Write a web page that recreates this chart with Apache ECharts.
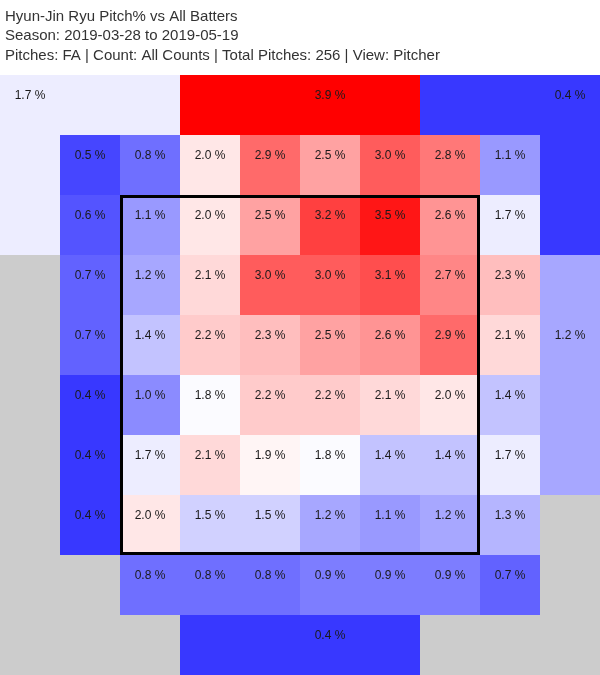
<!DOCTYPE html>
<html>
<head>
<meta charset="utf-8">
<script src="https://cdn.jsdelivr.net/npm/echarts@6/dist/echarts.min.js"></script>
<style>
html,body{margin:0;padding:0;background:#fff;}
#chart{width:600px;height:675px;}
</style>
</head>
<body>
<div id="chart"></div>
<script>
// Title lines
const titleLines = [
  "Hyun-Jin Ryu Pitch% vs All Batters",
  "Season: 2019-03-28 to 2019-05-19",
  "Pitches: FA | Count: All Counts | Total Pitches: 256 | View: Pitcher"
];

// Inner 8x8 zone grid (rows top to bottom, columns left to right), percent values; null = no cell
const row1 = [0.5, 0.8, 2.0, 2.9, 2.5, 3.0, 2.8, 1.1];
const row2 = [0.6, 1.1, 2.0, 2.5, 3.2, 3.5, 2.6, 1.7];
const row3 = [0.7, 1.2, 2.1, 3.0, 3.0, 3.1, 2.7, 2.3];
const row4 = [0.7, 1.4, 2.2, 2.3, 2.5, 2.6, 2.9, 2.1];
const row5 = [0.4, 1.0, 1.8, 2.2, 2.2, 2.1, 2.0, 1.4];
const row6 = [0.4, 1.7, 2.1, 1.9, 1.8, 1.4, 1.4, 1.7];
const row7 = [0.4, 2.0, 1.5, 1.5, 1.2, 1.1, 1.2, 1.3];
const row8 = [null, 0.8, 0.8, 0.8, 0.9, 0.9, 0.9, 0.7];
const innerRows = [row1, row2, row3, row4, row5, row6, row7, row8];

// Outer regions: [x0, y0, x1, y1] in zone units, label anchor [x, y], value
const outerNames  = ["topLeft", "topMid", "topRight", "right", "bottom"];
const outerBoxes  = [[0,0,3,3], [3,0,7,1], [7,0,10,3], [9,3,10,7], [3,9,7,10]];
const outerLabels = [[0.5,0.5], [5.5,0.5], [9.5,0.5], [9.5,4.5], [5.5,9.5]];
const outerValues = [1.7, 3.9, 0.4, 1.2, 0.4];

// Strike zone in zone units
const strikeZone = [2, 2, 8, 8];

const outerData = outerValues.map((v, i) => [
  outerBoxes[i][0], outerBoxes[i][1], outerBoxes[i][2], outerBoxes[i][3],
  outerLabels[i][0], outerLabels[i][1], v
]);
const innerData = [];
innerRows.forEach((row, r) => {
  row.forEach((v, c) => {
    if (v === null) return;
    innerData.push([c + 1, r + 1, c + 2, r + 2, c + 1.5, r + 1.5, v]);
  });
});

function renderCell(params, api) {
  const p0 = api.coord([api.value(0), api.value(1)]);
  const p1 = api.coord([api.value(2), api.value(3)]);
  const pl = api.coord([api.value(4), api.value(5)]);
  const color = api.visual('color');
  return {
    type: 'group',
    children: [
      {
        type: 'rect',
        shape: { x: Math.min(p0[0], p1[0]), y: Math.min(p0[1], p1[1]),
                 width: Math.abs(p1[0] - p0[0]), height: Math.abs(p1[1] - p0[1]) },
        style: { fill: color }
      },
      {
        type: 'text',
        z2: 10,
        style: {
          x: pl[0], y: pl[1] - 9,
          text: api.value(6).toFixed(1) + ' %',
          fill: '#1a1a1a',
          font: '12px Arial, "Liberation Sans", sans-serif',
          align: 'center', verticalAlign: 'middle'
        }
      }
    ]
  };
}

const chart = echarts.init(document.getElementById('chart'), null, { renderer: 'canvas' });
chart.setOption({
  animation: false,
  backgroundColor: '#ffffff',
  title: {
    text: titleLines.join('\n'),
    left: 0, top: 2,
    textStyle: { fontSize: 15, fontWeight: 'normal', color: '#333', lineHeight: 19.5,
                 fontFamily: 'Arial, "Liberation Sans", sans-serif' }
  },
  grid: { left: 0, top: 75, width: 600, height: 600, show: true,
          backgroundColor: '#cccccc', borderWidth: 0 },
  xAxis: { type: 'value', min: 0, max: 10, show: false },
  yAxis: { type: 'value', min: 0, max: 10, inverse: true, show: false },
  visualMap: {
    show: false, type: 'continuous', dimension: 6,
    min: 0, max: 3.66, seriesIndex: [0, 1],
    inRange: { color: ['#0000ff', '#ffffff', '#ff0000'] }
  },
  series: [
    { type: 'custom', renderItem: renderCell, data: outerData, z: 1,
      encode: { x: [0, 2, 4], y: [1, 3, 5] } },
    { type: 'custom', renderItem: renderCell, data: innerData, z: 2,
      encode: { x: [0, 2, 4], y: [1, 3, 5] } },
    { type: 'custom', z: 3, data: [strikeZone],
      renderItem: function (params, api) {
        const p0 = api.coord([api.value(0), api.value(1)]);
        const p1 = api.coord([api.value(2), api.value(3)]);
        return {
          type: 'rect',
          shape: { x: p0[0] + 1.5, y: p0[1] + 1.5, width: p1[0] - p0[0] - 3, height: p1[1] - p0[1] - 3 },
          style: { fill: 'none', stroke: '#000', lineWidth: 3 }
        };
      },
      encode: { x: [0, 2], y: [1, 3] }
    }
  ]
});
</script>
</body>
</html>
